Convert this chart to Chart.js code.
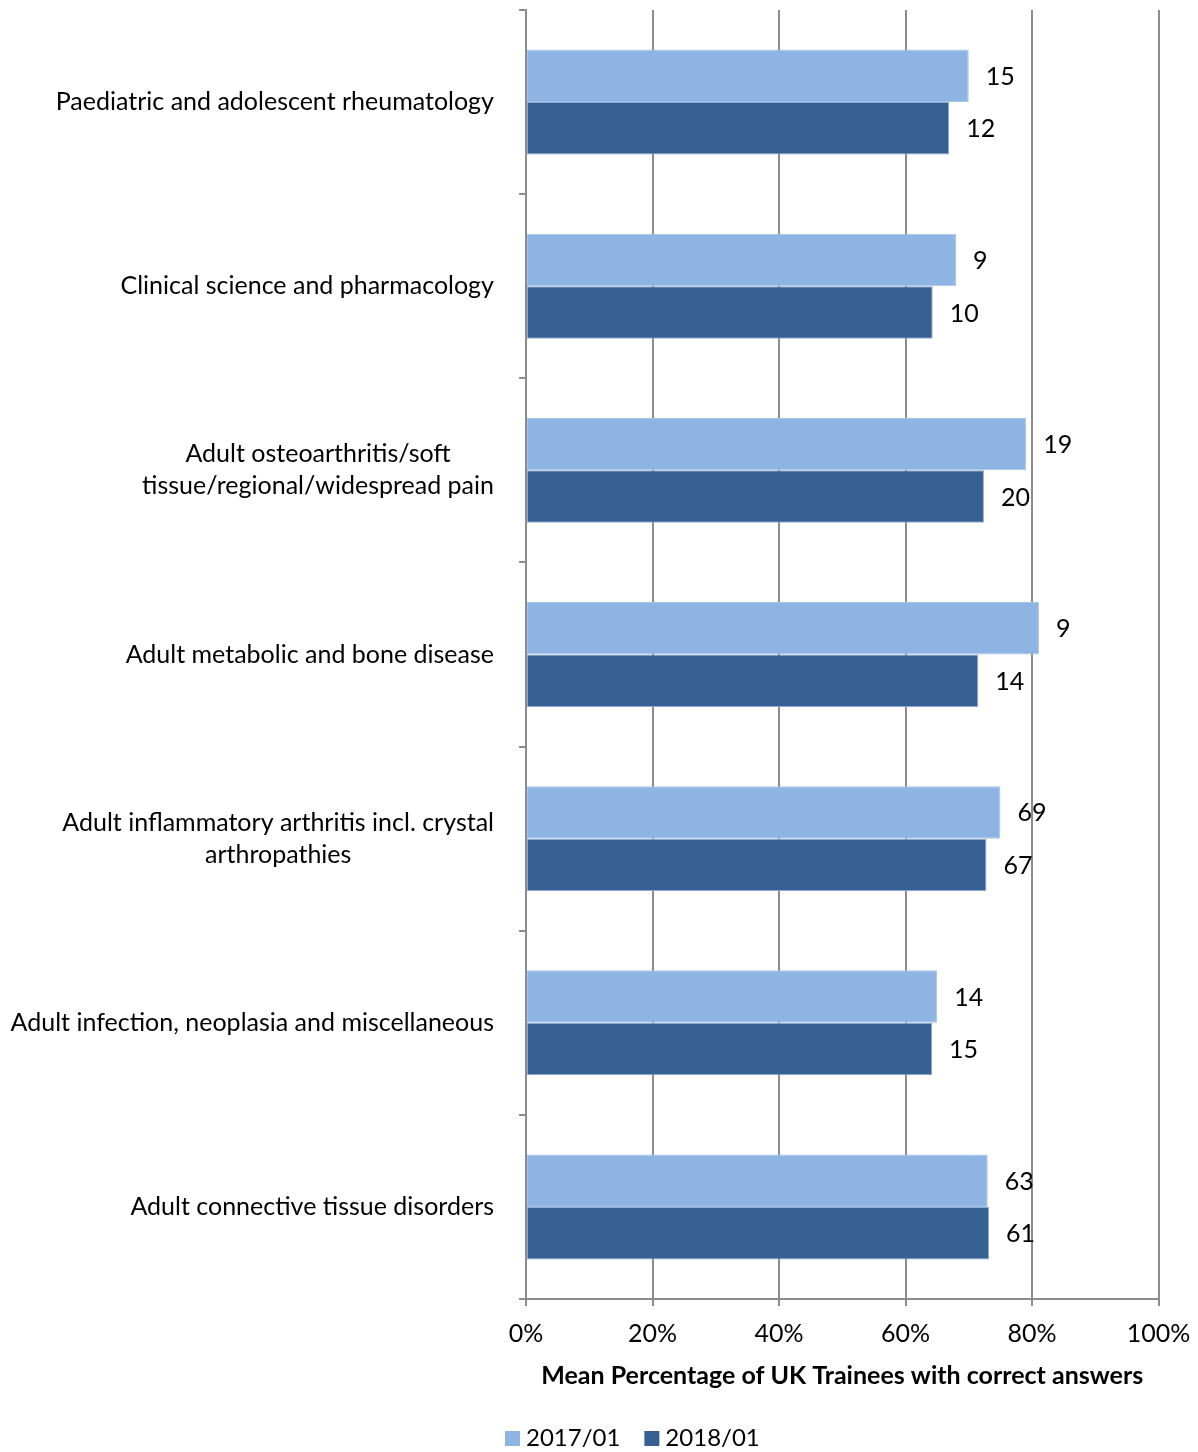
<!DOCTYPE html>
<html>
<head>
<meta charset="utf-8">
<script src="https://cdn.jsdelivr.net/npm/chart.js@4.4.0/dist/chart.umd.min.js"></script>
<style>
html,body{margin:0;padding:0;background:#fff;}
#wrap{width:1198px;height:1452px;position:relative;}
</style>
</head>
<body>
<div id="wrap"><canvas id="c" width="1198" height="1452"></canvas></div>
<script>
const categories = [
  ["Paediatric and adolescent rheumatology"],
  ["Clinical science and pharmacology"],
  ["Adult osteoarthritis/soft", "tissue/regional/widespread pain"],
  ["Adult metabolic and bone disease"],
  ["Adult inflammatory arthritis incl. crystal", "arthropathies"],
  ["Adult infection, neoplasia and miscellaneous"],
  ["Adult connective tissue disorders"]
];
const seriesNames = ["2017/01", "2018/01"];
const values2017 = [70.0, 68.0, 79.1, 81.1, 75.0, 65.0, 73.0];
const values2018 = [66.9, 64.3, 72.4, 71.5, 72.8, 64.2, 73.2];
const labels2017 = [15, 9, 19, 9, 69, 14, 63];
const labels2018 = [12, 10, 20, 14, 67, 15, 61];
const xTicks = [0, 20, 40, 60, 80, 100];

const FONT = "Lato";
const FS = 25;
const colors = ["#8EB4E3", "#376092"];
const gridColor = "#8c8c8c";

const valueLabelPlugin = {
  id: "valueLabels",
  afterDatasetsDraw(chart) {
    const ctx = chart.ctx;
    ctx.save();
    ctx.font = FS + "px " + FONT;
    ctx.fillStyle = "#000";
    ctx.textAlign = "left";
    ctx.textBaseline = "middle";
    chart.data.datasets.forEach((ds, di) => {
      const meta = chart.getDatasetMeta(di);
      meta.data.forEach((bar, i) => {
        ctx.fillText(String(ds.countLabels[i]), bar.x + 17, bar.y + 1);
      });
    });
    ctx.restore();
  }
};

const yLabelPlugin = {
  id: "yLabels",
  afterDraw(chart) {
    const ctx = chart.ctx;
    const y = chart.scales.y;
    ctx.save();
    ctx.font = FS + "px " + FONT;
    ctx.fillStyle = "#000";
    ctx.textBaseline = "middle";
    ctx.textAlign = "center";
    const lh = 32;
    const rightEdge = chart.chartArea.left - 32;
    categories.forEach((lines, i) => {
      const cy = y.getPixelForValue(i);
      const w = Math.max(...lines.map(l => ctx.measureText(l).width));
      const cx = rightEdge - w / 2;
      lines.forEach((l, k) => {
        ctx.fillText(l, cx, cy + (k - (lines.length - 1) / 2) * lh);
      });
    });
    ctx.restore();
  }
};

const legendPlugin = {
  id: "customLegend",
  afterDraw(chart) {
    const ctx = chart.ctx;
    ctx.save();
    ctx.font = "24px " + FONT;
    ctx.textBaseline = "middle";
    ctx.textAlign = "left";
    let x = 505;
    const cy = 1438;
    chart.data.datasets.forEach((ds) => {
      ctx.fillStyle = ds.backgroundColor;
      ctx.fillRect(x, cy - 7, 15, 15);
      ctx.fillStyle = "#000";
      ctx.fillText(ds.label, x + 21, cy);
      x += 21 + ctx.measureText(ds.label).width + 24;
    });
    ctx.restore();
  }
};

new Chart(document.getElementById("c"), {
  type: "bar",
  data: {
    labels: categories,
    datasets: [
      { label: seriesNames[0], data: values2017, countLabels: labels2017,
        backgroundColor: colors[0], borderColor: "#a9c4e8", borderWidth: 1, borderSkipped: false },
      { label: seriesNames[1], data: values2018, countLabels: labels2018,
        backgroundColor: colors[1], borderColor: "#8ea9cf", borderWidth: 1, borderSkipped: false }
    ]
  },
  options: {
    indexAxis: "y",
    responsive: false,
    animation: false,
    devicePixelRatio: 1,
    layout: { padding: { left: 0, right: 39.5, top: 10, bottom: 60 } },
    datasets: { bar: { categoryPercentage: 0.57, barPercentage: 1.0 } },
    plugins: {
      legend: { display: false },
      tooltip: { enabled: false }
    },
    scales: {
      x: {
        min: 0, max: 100,
        afterBuildTicks(scale) { scale.ticks = xTicks.map(v => ({ value: v })); },
        afterFit(scale) { scale.height = 93; scale.paddingLeft = 0; scale.paddingRight = 0; },
        grid: { color: gridColor, lineWidth: 2, drawTicks: true, tickLength: 7, tickColor: gridColor },
        border: { display: true, color: gridColor, width: 2 },
        ticks: {
          color: "#000",
          font: { family: FONT, size: FS },
          padding: 13,
          callback: (v) => v + "%"
        },
        title: {
          display: true,
          text: "Mean Percentage of UK Trainees with correct answers",
          color: "#000",
          font: { family: FONT, size: FS, weight: "bold" },
          padding: { top: 0, bottom: 1 }
        }
      },
      y: {
        afterFit(scale) { scale.width = 526; scale.paddingTop = 0; scale.paddingBottom = 0; },
        grid: { offset: true, drawOnChartArea: false, drawTicks: true, tickLength: 7, color: gridColor, lineWidth: 2 },
        border: { display: true, color: gridColor, width: 2 },
        ticks: { display: false }
      }
    }
  },
  plugins: [valueLabelPlugin, yLabelPlugin, legendPlugin]
});
</script>
</body>
</html>
